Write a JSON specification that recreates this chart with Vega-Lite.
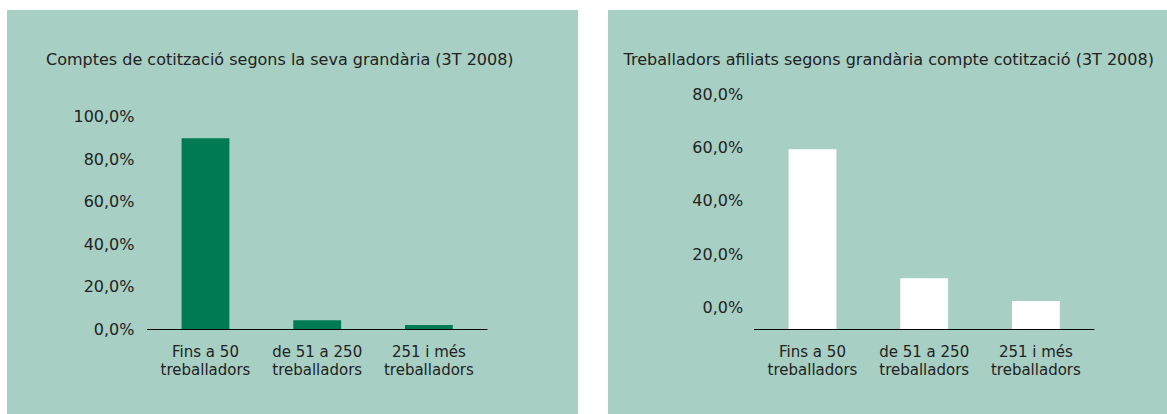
{
  "$schema": "https://vega.github.io/schema/vega-lite/v6.json",
  "background": "white",
  "padding": {"left": 7, "top": 10, "right": 0, "bottom": 0},
  "spacing": 30,
  "config": {
    "view": {"stroke": null},
    "font": "DejaVu Sans",
    "axis": {"labelFont": "DejaVu Sans", "labelColor": "#222222"}
  },
  "datasets": {
    "comptes": [
      {"grandaria": "Fins a 50 treballadors", "percentatge": 89.9},
      {"grandaria": "de 51 a 250 treballadors", "percentatge": 4.4},
      {"grandaria": "251 i més treballadors", "percentatge": 2.1}
    ],
    "treballadors": [
      {"grandaria": "Fins a 50 treballadors", "percentatge": 67.6},
      {"grandaria": "de 51 a 250 treballadors", "percentatge": 19.2},
      {"grandaria": "251 i més treballadors", "percentatge": 10.7}
    ]
  },
  "hconcat": [
    {
      "width": 571,
      "height": 404,
      "view": {"fill": "#a7cfc3", "stroke": null},
      "title": {
        "text": "Comptes de cotització segons la seva grandària (3T 2008)",
        "anchor": "start", "frame": "group", "offset": 0,
        "dx": 39, "dy": 66, "baseline": "middle",
        "fontSize": 16, "fontWeight": "normal", "color": "#222222", "font": "DejaVu Sans"
      },
      "data": {"name": "comptes"},
      "layer": [
        {
          "mark": {"type": "bar", "color": "#007a53"},
          "encoding": {
            "x": {
              "field": "grandaria", "type": "nominal", "sort": null,
              "scale": {"range": [142.65, 477.75], "paddingInner": 0.572, "paddingOuter": 0.286, "align": 0.5},
              "axis": {
                "title": null, "domain": false, "ticks": false, "tickSize": 0,
                "labelPadding": 15, "offset": -84.5, "labelAngle": 0,
                "labelExpr": "[replace(datum.label, ' treballadors', ''), 'treballadors']",
                "labelFontSize": 15, "labelLineHeight": 18, "labelColor": "#222222"
              }
            },
            "y": {
              "field": "percentatge", "type": "quantitative",
              "scale": {"domain": [-39.71, 150.14], "nice": false, "zero": false},
              "axis": {
                "values": [0, 20, 40, 60, 80, 100],
                "labelExpr": "replace(format(datum.value, '.1f'), '.', ',') + '%'",
                "title": null, "domain": false, "ticks": false, "tickSize": 0, "grid": false,
                "labelPadding": 0, "offset": -127, "labelFontSize": 16, "labelColor": "#222222"
              }
            }
          }
        },
        {
          "mark": {"type": "tick", "orient": "horizontal", "size": 117, "thickness": 1.2, "color": "#000000", "opacity": 1},
          "encoding": {
            "x": {"field": "grandaria", "type": "nominal", "sort": null},
            "y": {"datum": 0, "type": "quantitative"}
          }
        }
      ]
    },
    {
      "width": 559,
      "height": 404,
      "view": {"fill": "#a7cfc3", "stroke": null},
      "title": {
        "text": "Treballadors afiliats segons grandària compte cotització (3T 2008)",
        "anchor": "start", "frame": "group", "offset": 0,
        "dx": 15.6, "dy": 66, "baseline": "middle",
        "fontSize": 16, "fontWeight": "normal", "color": "#222222", "font": "DejaVu Sans"
      },
      "data": {"name": "treballadors"},
      "layer": [
        {
          "mark": {"type": "bar", "color": "#ffffff"},
          "encoding": {
            "x": {
              "field": "grandaria", "type": "nominal", "sort": null,
              "scale": {"range": [148.65, 483.75], "paddingInner": 0.572, "paddingOuter": 0.286, "align": 0.5},
              "axis": {
                "title": null, "domain": false, "ticks": false, "tickSize": 0,
                "labelPadding": 15, "offset": -84.5, "labelAngle": 0,
                "labelExpr": "[replace(datum.label, ' treballadors', ''), 'treballadors']",
                "labelFontSize": 15, "labelLineHeight": 18, "labelColor": "#222222"
              }
            },
            "y": {
              "field": "percentatge", "type": "quantitative",
              "scale": {"domain": [-31.69, 119.82], "nice": false, "zero": false},
              "axis": {
                "values": [0, 20, 40, 60, 80],
                "labelExpr": "replace(format(datum.value, '.1f'), '.', ',') + '%'",
                "title": null, "domain": false, "ticks": false, "tickSize": 0, "grid": false,
                "labelPadding": 0, "offset": -134.7, "labelOffset": -22,
                "labelFontSize": 16, "labelColor": "#222222"
              }
            }
          }
        },
        {
          "mark": {"type": "tick", "orient": "horizontal", "size": 117, "thickness": 1.2, "color": "#000000", "opacity": 1},
          "encoding": {
            "x": {"field": "grandaria", "type": "nominal", "sort": null},
            "y": {"datum": 0, "type": "quantitative"}
          }
        }
      ]
    }
  ]
}
